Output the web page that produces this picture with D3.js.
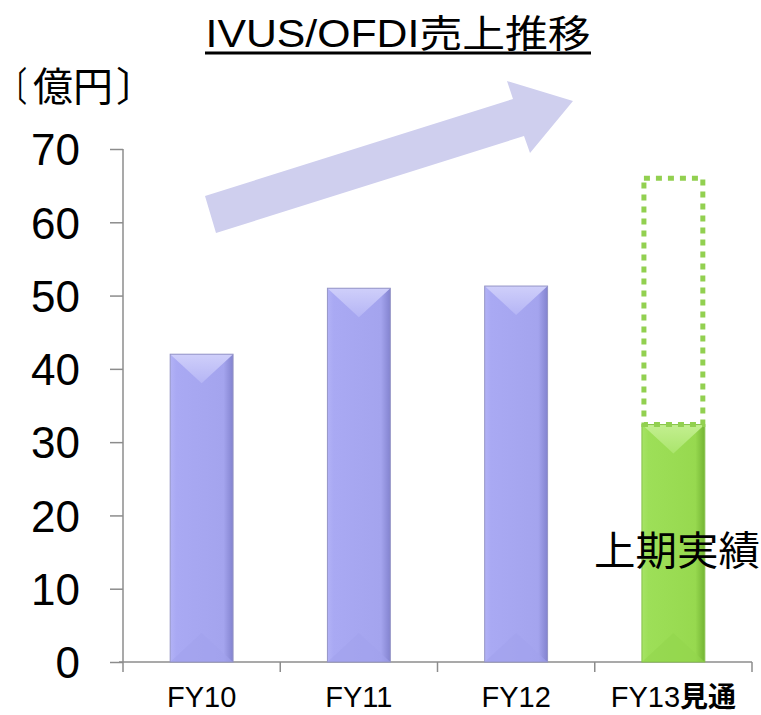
<!DOCTYPE html>
<html><head><meta charset="utf-8">
<script src="https://cdn.jsdelivr.net/npm/d3@7"></script>
<style>
html,body{margin:0;padding:0;background:#fff;}
svg{display:block;font-family:"Liberation Sans","Noto Sans CJK JP",sans-serif;}
</style></head>
<body><svg id="c" width="761" height="715"></svg>
<script>
const categories = ["FY10","FY11","FY12","FY13見通"];
const actualValues = [42.0, 51.0, 51.3, 32.4];
const forecastValues = [null, null, null, 66.0];
const yTicks = [0,10,20,30,40,50,60,70];
const titleText = "IVUS/OFDI売上推移";
const unitText = "〔億円〕";
const halfLabel = "上期実績";

(function(){
const svg = d3.select("#c");
const pLeft = 123, pRight = 752, pTop = 149, pBottom = 662;
const x = d3.scaleBand().domain(categories).range([pLeft, pRight]).paddingInner(0.6).paddingOuter(0.3);
const y = d3.scaleLinear().domain([0,70]).range([pBottom, pTop]);

const defs = svg.append("defs");
function grad(id, stops, x2, y2){
  const g = defs.append("linearGradient").attr("id", id).attr("x1",0).attr("y1",0).attr("x2",x2).attr("y2",y2);
  stops.forEach(s => g.append("stop").attr("offset", s[0]).attr("stop-color", s[1]));
}
grad("blueBody", [[0,"#b2b2f6"],[0.1,"#a9a9f3"],[0.85,"#a4a4ee"],[1,"#8383cf"]], 1, 0);
grad("greenBody", [[0,"#a6e466"],[0.1,"#9ddf58"],[0.85,"#97d94f"],[1,"#74b534"]], 1, 0);
grad("blueTop", [[0,"#cfcffa"],[1,"#b5b5f5"]], 0, 1);
grad("greenTop", [[0,"#c3ef90"],[1,"#aae56c"]], 0, 1);

// Arrow (decoration)
const arrowPts = [[216,233],[205,196],[513,99],[507,81],[573,101],[530,153],[524,136]];
svg.append("path").attr("d", d3.line()(arrowPts) + "Z").attr("fill", "#cfcfee");

// Title
svg.append("text").attr("x", 398).attr("y", 47).attr("text-anchor","middle")
  .attr("font-size", 38).attr("textLength", 385).attr("lengthAdjust","spacingAndGlyphs")
  .attr("fill","#000").text(titleText);
svg.append("line").attr("x1", 205).attr("x2", 591).attr("y1", 53).attr("y2", 53)
  .attr("stroke","#000").attr("stroke-width", 3);

// Unit label
const chars = Array.from(unitText);
const ut = svg.append("text").attr("y", 101).attr("font-size", 40).attr("fill","#000");
ut.append("tspan").attr("x", 0).attr("textLength", 27).attr("lengthAdjust","spacingAndGlyphs").text(chars[0]);
ut.append("tspan").attr("x", 33).text(chars.slice(1, chars.length-1).join(""));
ut.append("tspan").attr("x", 116).text(chars[chars.length-1]);

// Y axis
const yAxis = svg.append("g").attr("transform", `translate(${pLeft},0)`)
  .call(d3.axisLeft(y).tickValues(yTicks).tickSize(13).tickPadding(30));
yAxis.selectAll("line, path").attr("stroke", "#8c8c8c").attr("stroke-width", 1.5);
yAxis.select(".domain").attr("d", `M0,${pTop}V${pBottom}`);
yAxis.selectAll("text").attr("font-size", 44).attr("fill","#000")
  .attr("font-family","Liberation Sans, sans-serif").attr("dy","0.36em");

// X axis
const xg = svg.append("g").attr("transform", `translate(0,${pBottom})`);
xg.append("line").attr("x1", pLeft - 4).attr("x2", pRight).attr("stroke","#8c8c8c").attr("stroke-width",1.5);
const step = x.step();
const bounds = categories.map((c,i) => x(c) + x.bandwidth()/2 + step/2);
xg.selectAll("line.tk").data([pLeft].concat(bounds)).enter().append("line").attr("class","tk")
  .attr("x1", d=>d).attr("x2", d=>d).attr("y1", 0).attr("y2", 10)
  .attr("stroke","#8c8c8c").attr("stroke-width",1.5);
xg.selectAll("text").data(categories).enter().append("text")
  .attr("x", d => x(d) + x.bandwidth()/2).attr("y", 45).attr("text-anchor","middle")
  .attr("font-size", 29).attr("fill","#000")
  .each(function(d){
    const m = d.match(/^(FY\d+)(.*)$/);
    const t = d3.select(this);
    t.append("tspan").text(m[1]);
    if (m[2]) t.append("tspan").attr("font-weight","bold").attr("font-size",28).text(m[2]);
  });

// Bars
function drawBar(g, cat, v, isGreen){
  const x0 = x(cat), w = x.bandwidth(), x1 = x0 + w, yt = y(v), yb = y(0);
  const gb = g.append("g");
  gb.append("rect").attr("x", x0).attr("y", yt).attr("width", w).attr("height", yb-yt)
    .attr("fill", isGreen ? "url(#greenBody)" : "url(#blueBody)");
  const d = Math.min(w*0.46, (yb-yt)/2);
  gb.append("path").attr("d", d3.line()([[x0,yt],[x1,yt],[x0+w/2,yt+d]])+"Z")
    .attr("fill", isGreen ? "url(#greenTop)" : "url(#blueTop)");
  gb.append("path").attr("d", d3.line()([[x0,yb],[x1,yb],[x0+w/2,yb-d]])+"Z")
    .attr("fill", isGreen ? "#93d64c" : "#a2a2ec").attr("opacity",0.6);
  gb.append("rect").attr("x", x0).attr("y", yt).attr("width", w).attr("height", yb-yt)
    .attr("fill","none").attr("stroke", isGreen ? "#86c24a" : "#9595c6").attr("stroke-width",1);
}
const bars = svg.append("g");
categories.forEach((c,i) => drawBar(bars, c, actualValues[i], i === categories.length-1));

// Forecast dotted rectangle
const fc = svg.append("g");
categories.forEach((c,i) => {
  if (forecastValues[i] == null) return;
  const x0 = x(c) + 2, w = x.bandwidth() - 4;
  fc.append("rect").attr("x", x0).attr("y", y(forecastValues[i]))
    .attr("width", w).attr("height", y(actualValues[i]) - y(forecastValues[i]))
    .attr("fill","none").attr("stroke","#92d050").attr("stroke-width",5)
    .attr("stroke-dasharray","6,6");
});

// Half-year label
svg.append("text").attr("x", 594).attr("y", 565).attr("font-size", 40)
  .attr("textLength", 166).attr("lengthAdjust","spacingAndGlyphs").attr("fill","#000").text(halfLabel);
})();
</script></body></html>
